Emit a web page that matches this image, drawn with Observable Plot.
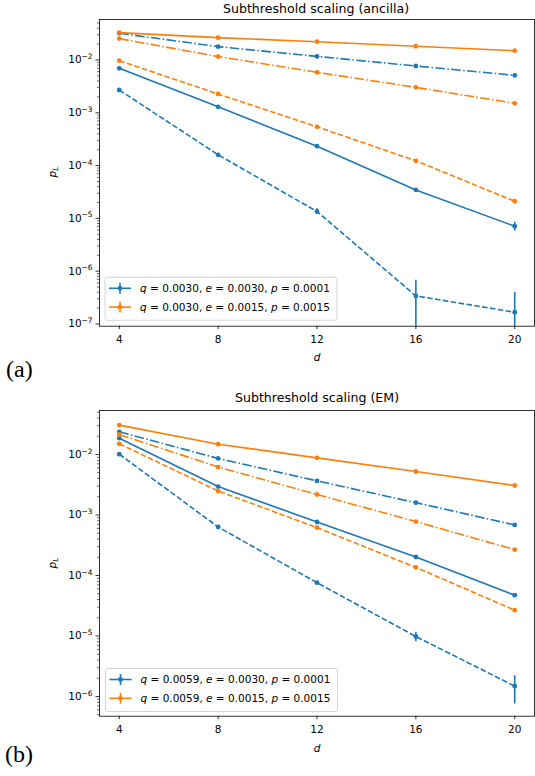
<!DOCTYPE html>
<html>
<head>
<meta charset="utf-8">
<script src="https://cdn.jsdelivr.net/npm/d3@7"></script>
<script src="https://cdn.jsdelivr.net/npm/@observablehq/plot@0.6"></script>
<style>
  html, body { margin: 0; padding: 0; background: #fff; }
  #wrap { position: relative; width: 535px; height: 776px; overflow: hidden; font-family: "DejaVu Sans", sans-serif; }
  .plotbox { position: absolute; left: 0; }
  #overlay { position: absolute; left: 0; top: 0; pointer-events: none; }
</style>
</head>
<body>
<div id="wrap">
  <div class="plotbox" id="p1" style="top:0px"></div>
  <div class="plotbox" id="p2" style="top:390px"></div>
  <svg id="overlay" width="535" height="776" font-family="DejaVu Sans, sans-serif">
    <text x="316" y="12.5" font-size="12.6" text-anchor="middle" fill="#000">Subthreshold scaling (ancilla)</text>
    <text x="317" y="402.3" font-size="12.6" text-anchor="middle" fill="#000">Subthreshold scaling (EM)</text>
    <text x="317" y="361" font-size="10.5" font-style="italic" text-anchor="middle" fill="#000">d</text>
    <text x="317" y="752" font-size="10.5" font-style="italic" text-anchor="middle" fill="#000">d</text>
    <text transform="translate(56,172) rotate(-90)" font-size="10.5" text-anchor="middle" fill="#000"><tspan font-style="italic">p</tspan><tspan font-style="italic" font-size="7.5" dy="1.5">L</tspan></text>
    <text transform="translate(56,563) rotate(-90)" font-size="10.5" text-anchor="middle" fill="#000"><tspan font-style="italic">p</tspan><tspan font-style="italic" font-size="7.5" dy="1.5">L</tspan></text>
    <text x="6" y="376.5" font-size="24" font-family="Liberation Serif, serif" fill="#000">(a)</text>
    <text x="5" y="762" font-size="24" font-family="Liberation Serif, serif" fill="#000">(b)</text>
    <g id="leg1"></g>
    <g id="leg2"></g>
  </svg>
</div>
<script>
// ---------- data ----------
const dValues = [4, 8, 12, 16, 20];
const xTicks = [4, 8, 12, 16, 20];
const blue = "#1f77b4";
const orange = "#ff7f0e";

// (a) ancilla
const ancBlueSolid     = [0.00695, 0.0013, 0.000233, 3.46e-5, 7.1e-6];
const ancBlueSolidErr  = [0, 0, 0, 2.0e-6, 1.35e-6];
const ancBlueDashed    = [0.0027, 1.6e-4, 1.35e-5, 3.4e-7, 1.67e-7];
const ancBlueDashedErr = [0, 0, 1.7e-6, 3.3e-7, 2.3e-7];
const ancBlueDashDot   = [0.0321, 0.0179, 0.0117, 0.0077, 0.00513];
const ancOrangeSolid   = [0.033, 0.0265, 0.0222, 0.0182, 0.015];
const ancOrangeDashed  = [0.0097, 0.00227, 0.000543, 0.000123, 2.11e-5];
const ancOrangeDashedErr = [0, 0, 0, 0, 1.3e-6];
const ancOrangeDashDot = [0.0254, 0.0116, 0.00584, 0.00303, 0.00151];
const ancYDomain = [Math.pow(10, -7.042), Math.pow(10, -1.233)];
const ancYTicks = [1e-7, 1e-6, 1e-5, 1e-4, 1e-3, 1e-2];
const ancLegend = ["0.0030", "0.0030", "0.0001", "0.0030", "0.0015", "0.0015"];

// (b) EM
const emBlueSolid     = [0.0186, 0.00295, 0.000766, 0.000202, 4.73e-5];
const emBlueDashed    = [0.0101, 0.000633, 7.6e-5, 9.8e-6, 1.48e-6];
const emBlueDashedErr = [0, 0, 0, 1.75e-6, 7.3e-7];
const emBlueDashDot   = [0.0237, 0.0086, 0.00366, 0.0016, 0.000684];
const emOrangeSolid   = [0.0306, 0.0148, 0.0088, 0.00523, 0.00307];
const emOrangeDashed  = [0.015, 0.00249, 0.000618, 0.000136, 2.67e-5];
const emOrangeDashDot = [0.0214, 0.0062, 0.00218, 0.000778, 0.000267];
const emYDomain = [Math.pow(10, -6.326), Math.pow(10, -1.273)];
const emYTicks = [1e-6, 1e-5, 1e-4, 1e-3, 1e-2];
const emLegend = ["0.0059", "0.0030", "0.0001", "0.0059", "0.0015", "0.0015"];

const zeros = [0, 0, 0, 0, 0];
const DASHED = "5.55,2.4";
const DASHDOT = "9.6,2.4,1.5,2.4";

const ancSeries = [
  {color: blue, dash: DASHDOT, values: ancBlueDashDot, err: zeros},
  {color: blue, dash: null, values: ancBlueSolid, err: ancBlueSolidErr},
  {color: blue, dash: DASHED, values: ancBlueDashed, err: ancBlueDashedErr},
  {color: orange, dash: null, values: ancOrangeSolid, err: zeros},
  {color: orange, dash: DASHDOT, values: ancOrangeDashDot, err: zeros},
  {color: orange, dash: DASHED, values: ancOrangeDashed, err: ancOrangeDashedErr}
];
const emSeries = [
  {color: blue, dash: DASHDOT, values: emBlueDashDot, err: zeros},
  {color: blue, dash: null, values: emBlueSolid, err: zeros},
  {color: blue, dash: DASHED, values: emBlueDashed, err: emBlueDashedErr},
  {color: orange, dash: null, values: emOrangeSolid, err: zeros},
  {color: orange, dash: DASHDOT, values: emOrangeDashDot, err: zeros},
  {color: orange, dash: DASHED, values: emOrangeDashed, err: zeros}
];

// ---------- drawing ----------
const fmtPow = v => "10^" + Math.round(Math.log10(v));

function buildPlot(series, yDomain, yMajor, mt, mb) {
  const minors = [];
  const k0 = Math.floor(Math.log10(yDomain[0])), k1 = Math.ceil(Math.log10(yDomain[1]));
  for (let k = k0; k <= k1; k++)
    for (let m = 2; m <= 9; m++) {
      const v = m * Math.pow(10, k);
      if (v >= yDomain[0] && v <= yDomain[1]) minors.push(v);
    }
  const marks = [
    Plot.axisX({ticks: xTicks, tickSize: 3.5, tickPadding: 6, tickFormat: d => String(d), label: null, strokeWidth: 0.8, fontSize: 10.5}),
    Plot.axisY({ticks: yMajor, tickSize: 3.5, tickPadding: 3.5, tickFormat: fmtPow, label: null, strokeWidth: 0.8, fontSize: 10.5}),
    Plot.axisY({ticks: minors, tickSize: 2, tickFormat: () => "", label: null, strokeWidth: 0.6})
  ];
  for (const s of series) {
    const rows = dValues.map((d, i) => ({d, v: s.values[i], e: s.err[i]}));
    marks.push(Plot.line(rows, {x: "d", y: "v", stroke: s.color, strokeWidth: 1.6,
      strokeDasharray: s.dash || undefined, strokeLinecap: "butt", strokeLinejoin: "round", clip: true}));
    marks.push(Plot.ruleX(rows.filter(r => r.e > 0), {x: "d",
      y1: r => Math.max(r.v - r.e, 1e-12), y2: r => r.v + r.e,
      stroke: s.color, strokeWidth: 1.6, clip: true}));
    marks.push(Plot.dot(rows, {x: "d", y: "v", r: 2.4, fill: s.color, stroke: null}));
  }
  marks.push(Plot.frame({stroke: "#000", strokeWidth: 0.8}));
  const svg = Plot.plot({
    width: 535, height: 370,
    marginLeft: 99, marginRight: 1, marginTop: mt, marginBottom: mb,
    style: {fontFamily: "DejaVu Sans, sans-serif", fontSize: "10.5px", color: "#000", background: "transparent", overflow: "visible"},
    x: {domain: [3.2, 20.8]},
    y: {type: "log", domain: yDomain},
    marks
  });
  // render tick labels as 10 with a raised exponent (real text, tspans)
  svg.querySelectorAll("text").forEach(t => {
    const s = t.textContent;
    const m = /^10\^(-?\d+)$/.exec(s);
    if (!m) return;
    while (t.firstChild) t.removeChild(t.firstChild);
    const ns = "http://www.w3.org/2000/svg";
    const a = document.createElementNS(ns, "tspan"); a.textContent = "10";
    const b = document.createElementNS(ns, "tspan");
    b.textContent = m[1].replace("-", "\u2212");
    b.setAttribute("font-size", "7.4");
    b.setAttribute("dy", "-4.3");
    t.appendChild(a); t.appendChild(b);
  });
  return svg;
}

document.getElementById("p1").appendChild(buildPlot(ancSeries, ancYDomain, ancYTicks, 19, 370 - 325.7));
document.getElementById("p2").appendChild(buildPlot(emSeries, emYDomain, emYTicks, 20, 370 - 325.7));

// ---------- legends ----------
function legend(gid, vals, x, y) {
  const g = d3.select("#" + gid);
  g.append("rect").attr("x", x).attr("y", y).attr("width", 232).attr("height", 43)
    .attr("rx", 2.5).attr("fill", "#fff").attr("fill-opacity", 0.8).attr("stroke", "#ccc").attr("stroke-width", 0.8);
  const rows = [{c: blue, v: vals.slice(0, 3)}, {c: orange, v: vals.slice(3, 6)}];
  rows.forEach((r, i) => {
    const cy = y + 11 + i * 18.8;
    g.append("line").attr("x1", x + 4).attr("x2", x + 26).attr("y1", cy).attr("y2", cy).attr("stroke", r.c).attr("stroke-width", 1.6);
    g.append("line").attr("x1", x + 15).attr("x2", x + 15).attr("y1", cy - 5.5).attr("y2", cy + 5.5).attr("stroke", r.c).attr("stroke-width", 1.6);
    g.append("circle").attr("cx", x + 15).attr("cy", cy).attr("r", 2.4).attr("fill", r.c);
    const t = g.append("text").attr("x", x + 35).attr("y", cy + 3.8).attr("font-size", 10.5).attr("fill", "#000");
    const names = ["q", "e", "p"];
    names.forEach((n, j) => {
      t.append("tspan").attr("font-style", "italic").text(n);
      t.append("tspan").text(" = " + r.v[j] + (j < 2 ? ", " : ""));
    });
  });
}
legend("leg1", ancLegend, 105, 277.3);
legend("leg2", emLegend, 105.5, 668.5);
</script>
</body>
</html>
